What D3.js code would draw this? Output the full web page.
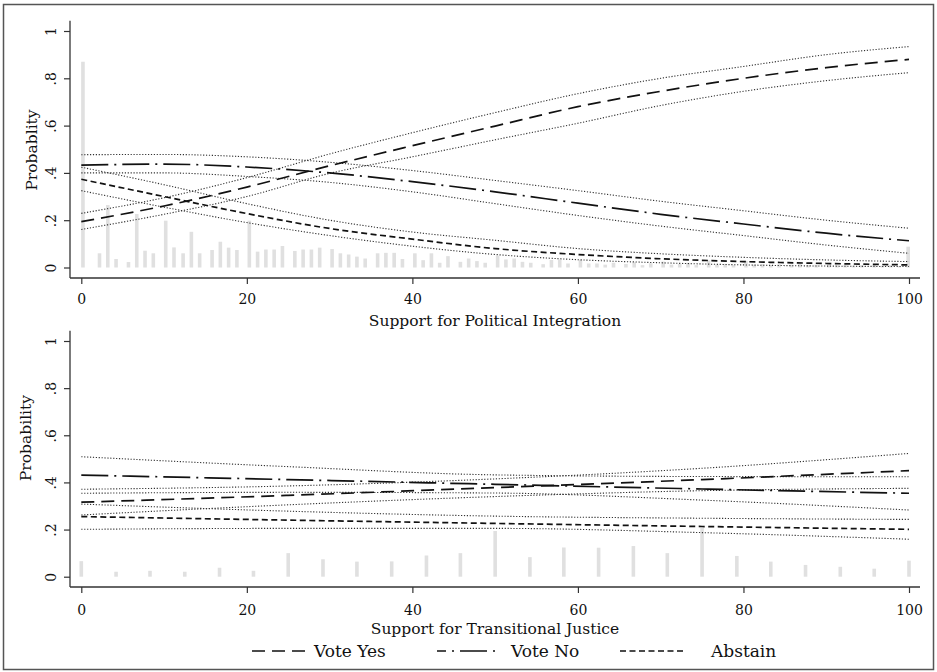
<!DOCTYPE html>
<html>
<head>
<meta charset="utf-8">
<script src="https://cdn.jsdelivr.net/npm/d3@7"></script>
<style>
  body { margin: 0; background: #fff; }
  text { font-family: "DejaVu Serif", serif; fill: #111; }
</style>
</head>
<body>
<svg id="chart" width="937" height="672"></svg>
<script>
// ---- Predicted probabilities: support for political integration ----
const piX      = [0, 10, 20, 30, 40, 50, 60, 70, 80, 90, 100];
const piYes    = [0.194, 0.26, 0.34, 0.43, 0.515, 0.598, 0.68, 0.745, 0.80, 0.845, 0.88];
const piYesLo  = [0.161, 0.225, 0.30, 0.398, 0.468, 0.54, 0.61, 0.685, 0.745, 0.79, 0.824];
const piYesHi  = [0.229, 0.295, 0.38, 0.48, 0.57, 0.655, 0.735, 0.80, 0.85, 0.90, 0.934];
const piNo     = [0.433, 0.437, 0.425, 0.40, 0.363, 0.32, 0.272, 0.225, 0.184, 0.145, 0.113];
const piNoLo   = [0.40, 0.40, 0.385, 0.36, 0.32, 0.27, 0.22, 0.175, 0.135, 0.095, 0.06];
const piNoHi   = [0.477, 0.478, 0.468, 0.445, 0.41, 0.368, 0.325, 0.28, 0.24, 0.20, 0.166];
const piAb     = [0.373, 0.30, 0.228, 0.165, 0.12, 0.08, 0.055, 0.037, 0.025, 0.017, 0.011];
const piAbLo   = [0.325, 0.255, 0.19, 0.135, 0.09, 0.055, 0.033, 0.02, 0.011, 0.006, 0.004];
const piAbHi   = [0.424, 0.35, 0.27, 0.20, 0.15, 0.115, 0.08, 0.058, 0.043, 0.032, 0.025];

// Distribution of respondents (political integration)
const piBarX = [0.2, 2.2, 3.2, 4.2, 5.7, 6.7, 7.7, 8.7, 10.2, 11.2, 12.3, 13.3, 14.3, 15.8, 16.8, 17.8, 18.8,
  20.3, 21.3, 22.3, 23.3, 24.3, 25.8, 26.8, 27.8, 28.8, 30.3, 31.3, 32.3, 33.3, 34.3, 35.8, 36.8, 37.8, 38.8,
  40.3, 41.3, 42.3, 43.3, 44.3, 45.8, 46.8, 47.8, 48.8, 50.3, 51.3, 52.3, 53.3, 54.3, 55.8, 56.8, 57.8, 58.8,
  60.3, 61.3, 62.3, 63.3, 64.3, 65.8, 66.8, 67.8, 68.8, 70.3, 71.3, 72.3, 73.3, 74.3, 75.8, 76.8, 77.8, 78.8,
  80.3, 81.3, 82.3, 83.3, 84.3, 85.8, 86.8, 87.8, 88.8, 90.3, 91.3, 92.3, 93.3, 94.3, 95.8, 96.8, 97.8, 98.8, 99.9];
const piBarH = [0.87, 0.06, 0.264, 0.036, 0.023, 0.226, 0.071, 0.06, 0.198, 0.085, 0.06, 0.151, 0.06, 0.074, 0.109, 0.084, 0.074,
  0.198, 0.067, 0.076, 0.076, 0.091, 0.07, 0.076, 0.076, 0.084, 0.078, 0.06, 0.055, 0.046, 0.038, 0.06, 0.062, 0.062, 0.036,
  0.06, 0.031, 0.06, 0.02, 0.048, 0.024, 0.038, 0.027, 0.02, 0.05, 0.034, 0.038, 0.024, 0.02, 0.014, 0.032, 0.034, 0.017,
  0.032, 0.017, 0.017, 0.012, 0.02, 0.015, 0.022, 0.01, 0.018, 0.025, 0.012, 0.015, 0.02, 0.01, 0.03, 0.012, 0.015, 0.01,
  0.028, 0.012, 0.015, 0.01, 0.014, 0.012, 0.016, 0.01, 0.012, 0.02, 0.01, 0.012, 0.008, 0.01, 0.01, 0.008, 0.01, 0.006, 0.088];

// ---- Predicted probabilities: support for transitional justice ----
const tjX     = [0, 25, 50, 75, 100];
const tjYes   = [0.316, 0.345, 0.378, 0.412, 0.45];
const tjYesLo = [0.262, 0.305, 0.34, 0.365, 0.375];
const tjYesHi = [0.371, 0.385, 0.415, 0.46, 0.523];
const tjNo    = [0.431, 0.412, 0.392, 0.372, 0.354];
const tjNoLo  = [0.354, 0.358, 0.355, 0.325, 0.283];
const tjNoHi  = [0.509, 0.467, 0.432, 0.425, 0.424];
const tjAb    = [0.255, 0.24, 0.226, 0.213, 0.201];
const tjAbLo  = [0.201, 0.205, 0.205, 0.187, 0.159];
const tjAbHi  = [0.308, 0.278, 0.257, 0.248, 0.243];

// Distribution of respondents (transitional justice)
const tjBarX = [0, 4.2, 8.3, 12.5, 16.7, 20.8, 25, 29.2, 33.3, 37.5, 41.7, 45.8, 50, 54.2, 58.3, 62.5, 66.7, 70.8, 75, 79.2, 83.3, 87.5, 91.7, 95.8, 100];
const tjBarH = [0.066, 0.021, 0.025, 0.021, 0.038, 0.025, 0.10, 0.074, 0.064, 0.065, 0.09, 0.10, 0.194, 0.083, 0.124, 0.123, 0.13, 0.10, 0.208, 0.088, 0.064, 0.05, 0.042, 0.034, 0.068];

// ---- Axis ticks and labels ----
const xTicks = [0, 20, 40, 60, 80, 100];
const xTickLabels = ["0", "20", "40", "60", "80", "100"];
const yTicks = [0, 0.2, 0.4, 0.6, 0.8, 1];
const yTickLabels = ["0", ".2", ".4", ".6", ".8", "1"];
const seriesNames = ["Vote Yes", "Vote No", "Abstain"];

// ---- Line styles ----
const styles = {
  yes: { dash: "13,7", width: 1.7 },
  no:  { dash: "27,6,2,6", width: 1.7 },
  ab:  { dash: "6,3.5", width: 1.7 },
  ci:  { dash: "1.2,1.7", width: 1.1, color: "#333" }
};

const svg = d3.select("#chart");
svg.append("rect").attr("width", 937).attr("height", 672).attr("fill", "#fff");

const x = d3.scaleLinear().domain([0, 100]).range([81.3, 909]);

function drawPanel(cfg) {
  const g = svg.append("g");
  const y = d3.scaleLinear().domain([0, 1]).range([cfg.y0, cfg.y1]);

  // histogram of respondents
  g.append("g").selectAll("rect")
    .data(cfg.barX.map((v, i) => ({ v, h: cfg.barH[i] })))
    .join("rect")
    .attr("x", d => x(d.v) - 1.8)
    .attr("width", 3.6)
    .attr("y", d => y(d.h))
    .attr("height", d => y(0) - y(d.h))
    .attr("fill", "#e0e0e0");

  const line = d3.line()
    .x(d => x(d[0]))
    .y(d => y(d[1]))
    .curve(d3.curveMonotoneX);
  const pts = arr => cfg.xs.map((v, i) => [v, arr[i]]);

  // confidence bounds
  [cfg.yesLo, cfg.yesHi, cfg.noLo, cfg.noHi, cfg.abLo, cfg.abHi].forEach(arr => {
    g.append("path")
      .attr("d", line(pts(arr)))
      .attr("fill", "none")
      .attr("stroke", styles.ci.color)
      .attr("stroke-width", styles.ci.width)
      .attr("stroke-dasharray", styles.ci.dash);
  });

  // point estimates
  [[cfg.yes, styles.yes], [cfg.no, styles.no], [cfg.ab, styles.ab]].forEach(([arr, st]) => {
    g.append("path")
      .attr("d", line(pts(arr)))
      .attr("fill", "none")
      .attr("stroke", "#111")
      .attr("stroke-width", st.width)
      .attr("stroke-dasharray", st.dash);
  });

  // y axis
  const yAxis = g.append("g")
    .attr("transform", `translate(70,0)`)
    .call(d3.axisLeft(y).tickValues(yTicks).tickFormat((d, i) => yTickLabels[i]).tickSize(6).tickSizeOuter(0));
  yAxis.select(".domain").remove();
  yAxis.selectAll(".tick line").attr("stroke", "#333").attr("stroke-width", 1.2);
  yAxis.selectAll(".tick text")
    .attr("transform", "rotate(-90)")
    .attr("x", 0).attr("y", -14).attr("dy", 0)
    .attr("text-anchor", "middle")
    .style("font-family", '"DejaVu Serif", serif')
    .style("font-size", "14px")
    .attr("fill", "#111");
  g.append("line")
    .attr("x1", 70).attr("x2", 70)
    .attr("y1", cfg.axisTop).attr("y2", cfg.axisY)
    .attr("stroke", "#333").attr("stroke-width", 1.3);

  // x axis
  const xAxis = g.append("g")
    .attr("transform", `translate(0,${cfg.axisY})`)
    .call(d3.axisBottom(x).tickValues(xTicks).tickFormat((d, i) => xTickLabels[i]).tickSize(6).tickSizeOuter(0));
  xAxis.select(".domain").remove();
  xAxis.selectAll(".tick line").attr("stroke", "#333").attr("stroke-width", 1.2);
  xAxis.selectAll(".tick text")
    .attr("y", cfg.tickLabelDy).attr("dy", 0)
    .style("font-family", '"DejaVu Serif", serif')
    .style("font-size", "14px")
    .attr("fill", "#111");
  g.append("line")
    .attr("x1", 70).attr("x2", 920)
    .attr("y1", cfg.axisY).attr("y2", cfg.axisY)
    .attr("stroke", "#333").attr("stroke-width", 1.3);

  // titles
  g.append("text")
    .attr("x", 495).attr("y", cfg.xTitleY)
    .attr("text-anchor", "middle")
    .style("font-size", "15.5px")
    .text(cfg.xTitle);
  g.append("text")
    .attr("transform", `translate(${cfg.yTitleX},${cfg.yTitleCy}) rotate(-90)`)
    .attr("text-anchor", "middle")
    .style("font-size", "15.5px")
    .text(cfg.yTitle);
}

drawPanel({
  y0: 267.5, y1: 31, axisY: 278, axisTop: 20.7, tickLabelDy: 26,
  xs: piX, yes: piYes, yesLo: piYesLo, yesHi: piYesHi,
  no: piNo, noLo: piNoLo, noHi: piNoHi, ab: piAb, abLo: piAbLo, abHi: piAbHi,
  barX: piBarX, barH: piBarH,
  xTitle: "Support for Political Integration", xTitleY: 326,
  yTitle: "Probablity", yTitleX: 37, yTitleCy: 150
});

drawPanel({
  y0: 576.7, y1: 341, axisY: 587, axisTop: 330.7, tickLabelDy: 27.5,
  xs: tjX, yes: tjYes, yesLo: tjYesLo, yesHi: tjYesHi,
  no: tjNo, noLo: tjNoLo, noHi: tjNoHi, ab: tjAb, abLo: tjAbLo, abHi: tjAbHi,
  barX: tjBarX, barH: tjBarH,
  xTitle: "Support for Transitional Justice", xTitleY: 633.5,
  yTitle: "Probability", yTitleX: 31, yTitleCy: 438
});

// legend
const legend = svg.append("g");
const legendItems = [
  { key: styles.yes, x1: 252, x2: 308, tx: 314, offset: 0 },
  { key: styles.no,  x1: 437, x2: 495, tx: 511, offset: 18 },
  { key: styles.ab,  x1: 620, x2: 685, tx: 711, offset: 0 }
];
legendItems.forEach((it, i) => {
  legend.append("line")
    .attr("x1", it.x1).attr("x2", it.x2)
    .attr("y1", 651).attr("y2", 651)
    .attr("stroke", "#111").attr("stroke-width", 1.5)
    .attr("stroke-dasharray", it.key.dash)
    .attr("stroke-dashoffset", it.offset);
  legend.append("text")
    .attr("x", it.tx).attr("y", 657)
    .style("font-size", "17px")
    .text(seriesNames[i]);
});

// outer frame
svg.append("rect")
  .attr("x", 3.5).attr("y", 4.5)
  .attr("width", 930).attr("height", 665)
  .attr("fill", "none")
  .attr("stroke", "#555").attr("stroke-width", 1.5);
</script>
</body>
</html>
